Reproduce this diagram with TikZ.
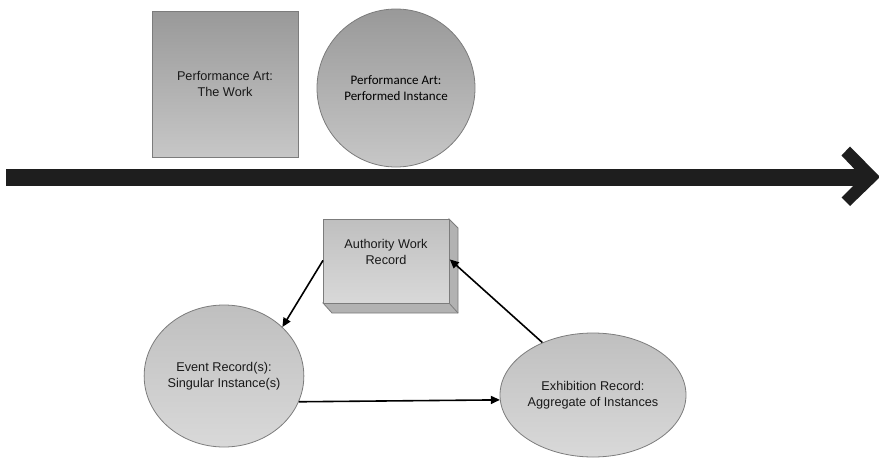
\documentclass[tikz,border=0pt]{standalone}
\usepackage{fontspec}
\setmainfont{Liberation Sans}
\newfontfamily\calfont{Carlito}
\usetikzlibrary{shapes.geometric,arrows.meta}
\definecolor{edgegray}{HTML}{7C7C7C}
\definecolor{bardark}{HTML}{1E1E1E}
\tikzset{
  topshape/.style={draw=edgegray, line width=0.8pt, top color=black!40, bottom color=black!22, align=center, inner sep=0pt},
  lowshape/.style={draw=edgegray, line width=0.8pt, top color=black!25, bottom color=black!15, align=center, inner sep=0pt},
  lbl/.style={font=\fontsize{12.7}{15.5}\selectfont, text=black!90},
  link/.style={draw=black, line width=1.6pt, -{Triangle[length=9pt,width=8pt]}},
}
\begin{document}
\begin{tikzpicture}[x=1pt,y=-1pt]
\useasboundingbox (0,0) rectangle (879,458);
% timeline
\fill[bardark] (6,168.5) rectangle (866,186);
\fill[bardark] (850,146.5) -- (880,177) -- (850,206) -- (841.5,197.5) -- (862,177) -- (841.5,155.5) -- cycle;
% top shapes
\node[topshape, rectangle, minimum width=146, minimum height=146, lbl] (work) at (225,84) {Performance Art:\\The Work};
\node[topshape, circle, minimum size=158, font=\calfont\fontsize{13}{16}\selectfont] (inst) at (396,88) {Performance Art:\\Performed Instance};
% authority cuboid
\fill[black!30, draw=edgegray, line width=0.8pt] (449,219) -- (458,228) -- (458,313) -- (332,313) -- (323,303) -- (449,303) -- cycle;
\draw[edgegray, line width=0.8pt] (449,303) -- (458,313);
\node[lowshape, rectangle, minimum width=126, minimum height=84, anchor=north west] (auth) at (323,219) {};
\node[lbl, align=center] (authtext) at (386,252) {Authority Work\\Record};
% lower ellipses
\node[lowshape, ellipse, minimum width=154, minimum height=142, lbl] (event) at (224,376) {Event Record(s):\\Singular Instance(s)};
\node[lowshape, ellipse, minimum width=186, minimum height=124, lbl] (exhib) at (593,395) {Exhibition Record:\\Aggregate of Instances};
% connectors
\draw[link] ([yshift=1]auth.west) -- (event.40);
\draw[link] (event.-19) -- (exhib.183);
\draw[link] (exhib.134) -- ([yshift=2]auth.east);
\end{tikzpicture}
\end{document}
